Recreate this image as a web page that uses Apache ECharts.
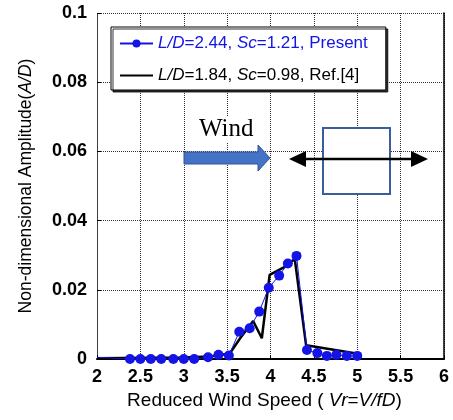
<!DOCTYPE html>
<html><head><meta charset="utf-8">
<script src="https://cdn.jsdelivr.net/npm/echarts@6/dist/echarts.min.js"></script>
<style>html,body{margin:0;padding:0;background:#fff}#c{width:453px;height:420px}</style>
</head><body><div id="c"></div>
<script>
// Present study: L/D=2.44, Sc=1.21
const presentX = [2.0, 2.38, 2.5, 2.62, 2.74, 2.88, 3.0, 3.12, 3.28, 3.4, 3.52, 3.64, 3.76, 3.87, 3.98, 4.1, 4.2, 4.3, 4.42, 4.54, 4.65, 4.76, 4.88, 5.0];
const presentY = [0.0005, 0, 0, 0, 0, 0, 0, 0, 0.0005, 0.0012, 0.001, 0.0079, 0.0089, 0.0137, 0.0206, 0.0241, 0.0276, 0.0298, 0.0026, 0.0017, 0.0009, 0.0012, 0.0009, 0.0009];
// Ref.[4]: L/D=1.84, Sc=0.98
const refX = [2.0, 3.0, 3.3, 3.53, 3.65, 3.8, 3.9, 3.99, 4.17, 4.28, 4.41, 4.99];
const refY = [0.0002, 0.0004, 0.0007, 0.0016, 0.006, 0.011, 0.006, 0.0243, 0.0267, 0.0289, 0.004, 0.0016];
const xTicks = {min: 2, max: 6, step: 0.5};
const yTicks = {min: 0, max: 0.1, step: 0.02};
const nameP = 'present', nameR = 'ref';

const BLUE = '#1414e6';
const font = 'Liberation Sans, Arial, sans-serif';
const chart = echarts.init(document.getElementById('c'), null, {renderer: 'canvas'});
const presentData = presentX.map((x, i) => i === 0 ? {value: [x, presentY[i]], symbol: 'none'} : [x, presentY[i]]);
const refData = refX.map((x, i) => [x, refY[i]]);
chart.setOption({
  animation: false,
  backgroundColor: '#fff',
  grid: {left: 97, right: 9, top: 13, bottom: 61},
  xAxis: {
    type: 'value', min: xTicks.min, max: xTicks.max, interval: xTicks.step,
    name: 'Reduced Wind Speed ( {i|Vr}={i|V/fD})', nameLocation: 'middle', nameGap: 30,
    nameTextStyle: {fontFamily: font, fontSize: 19, color: '#000', padding: [0, 12, 0, 0], rich: {i: {fontStyle: 'italic', fontFamily: font, fontSize: 19}}},
    axisLine: {show: true, lineStyle: {color: '#000', width: 2}},
    axisTick: {show: true, inside: true, length: 4, lineStyle: {color: '#000'}},
    axisLabel: {fontFamily: font, fontWeight: 'bold', fontSize: 18, color: '#000', margin: 9},
    splitLine: {show: true, lineStyle: {color: '#333', type: 'dotted', width: 1}}
  },
  yAxis: [{
    type: 'value', min: yTicks.min, max: yTicks.max, interval: yTicks.step,
    name: 'Non-dimensional Amplitude({i|A/D})', nameLocation: 'middle', nameGap: 62,
    nameTextStyle: {fontFamily: font, fontSize: 17.5, color: '#000', rich: {i: {fontStyle: 'italic', fontFamily: font, fontSize: 17.5}}},
    axisLine: {show: true, lineStyle: {color: '#444', type: 'dotted', width: 1}},
    axisTick: {show: true, inside: true, length: 4, lineStyle: {color: '#000'}},
    axisLabel: {fontFamily: font, fontWeight: 'bold', fontSize: 18, color: '#000', margin: 10},
    splitLine: {show: true, lineStyle: {color: '#333', type: 'dotted', width: 1}}
  }, {
    type: 'value', position: 'right', min: yTicks.min, max: yTicks.max, interval: yTicks.step,
    axisLine: {show: true, lineStyle: {color: '#000', width: 1.5}},
    axisTick: {show: false}, axisLabel: {show: false}, splitLine: {show: false}
  }],
  legend: {
    orient: 'vertical', left: 111, top: 27,
    data: [{name: nameP, textStyle: {color: BLUE}}, {name: nameR, itemStyle: {opacity: 0}}],
    formatter: n => n === nameP ? '{i|L/D}=2.44, {i|Sc}=1.21, Present' : '{i|L/D}=1.84, {i|Sc}=0.98, Ref.[4]',
    textStyle: {fontFamily: font, fontSize: 17, color: '#000', rich: {i: {fontStyle: 'italic', fontFamily: font, fontSize: 17}}},
    itemWidth: 33, itemHeight: 10, itemGap: 15,
    padding: [8, 18, 6, 8],
    backgroundColor: '#fff', borderColor: '#000', borderWidth: 1,
    shadowColor: 'rgba(0,0,0,0.8)', shadowBlur: 0, shadowOffsetX: 2, shadowOffsetY: 2
  },
  series: [{
    name: nameR, type: 'line', data: refData, showSymbol: false, symbol: 'none',
    lineStyle: {color: '#000', width: 2.5}, itemStyle: {color: '#000'}, z: 2
  }, {
    name: nameP, type: 'line', data: presentData, symbol: 'circle', symbolSize: 10,
    lineStyle: {color: BLUE, width: 1}, itemStyle: {color: BLUE}, z: 3
  }],
  graphic: [
    {type: 'text', left: 197, top: 117, z: 10, style: {text: 'Wind', font: '25px "Liberation Serif", "Times New Roman", serif', fill: '#000', backgroundColor: '#fff', padding: [0, 2]}},
    {type: 'polygon', z: 10, shape: {points: [[184,152],[258,152],[258,145],[270,158],[258,171],[258,164],[184,164]]}, style: {fill: '#4472C4', stroke: '#2F5597', lineWidth: 1}},
    {type: 'rect', z: 10, shape: {x: 323, y: 128, width: 67, height: 66}, style: {fill: '#fff', stroke: '#3A5D9C', lineWidth: 2}},
    {type: 'line', z: 11, shape: {x1: 300, y1: 159, x2: 418, y2: 159}, style: {stroke: '#000', lineWidth: 2.5}},
    {type: 'polygon', z: 11, shape: {points: [[289,159],[306,151],[306,167]]}, style: {fill: '#000'}},
    {type: 'polygon', z: 11, shape: {points: [[428,159],[411,151],[411,167]]}, style: {fill: '#000'}}
  ]
});
</script></body></html>
